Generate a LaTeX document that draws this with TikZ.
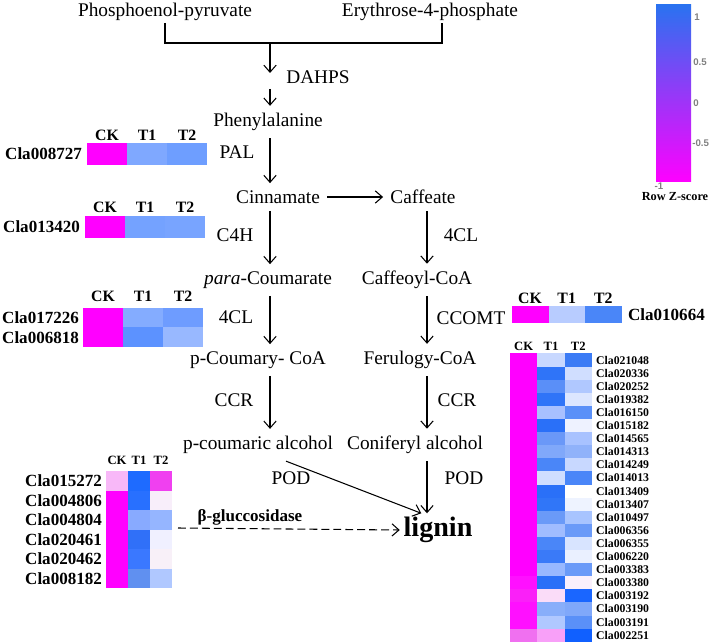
\documentclass[tikz,border=0pt]{standalone}
\usepackage{fontspec}
\setmainfont{Liberation Serif}
\setsansfont{Liberation Sans}
\usetikzlibrary{arrows.meta}

\newcommand{\hmcell}[5]{%
  \definecolor{hmc}{HTML}{#5}%
  \fill[hmc] (#1,#2) rectangle ++(#3,#4);}

\tikzset{
  met/.style={font=\fontsize{11}{13}\selectfont, inner sep=4pt},
  enz/.style={font=\fontsize{11}{13}\selectfont, inner sep=1pt},
  flow/.style={-{Straight Barb[length=4pt,width=7pt]}, line width=0.6pt},
  gene/.style={font=\fontsize{9.7}{11}\selectfont\bfseries, inner sep=1pt, anchor=east},
  hdr/.style={font=\fontsize{9}{11}\selectfont\bfseries, inner sep=1pt},
  smallgene/.style={font=\fontsize{6.7}{8}\selectfont\bfseries, inner sep=1pt, anchor=west},
  smallhdr/.style={font=\fontsize{7.2}{9}\selectfont\bfseries, inner sep=1pt},
  zval/.style={font=\fontsize{5.5}{7}\selectfont\sffamily\bfseries, text=gray, inner sep=0pt, anchor=west}
}

\begin{document}
\begin{tikzpicture}[x=0.02cm, y=-0.02cm]
\useasboundingbox (0,0) rectangle (709,644);

% precursors and DAHPS
\node[met, inner sep=1pt] (pep) at (165,12) {Phosphoenol-pyruvate};
\node[met, inner sep=1pt] (e4p) at (430,12) {Erythrose-4-phosphate};
\coordinate (join) at (270,43);
\coordinate (brR) at (442,43);
\coordinate (dA) at (270,73);
\coordinate (dB) at (270,89);
\coordinate (c1) at (270,0);
\coordinate (c2) at (427,0);
\draw[line width=0.6pt] (pep.south) |- (brR) -- (brR |- e4p.south);
\draw[flow] (join) -- (dA);
\node[enz] (dahps) at (318,77) {DAHPS};

% pathway
\node[met] (phe) at (268,122) {Phenylalanine};
\node[met] (cin) at (278,197) {Cinnamate};
\node[met] (caf) at (423,197) {Caffeate};
\node[met] (pcou) at (268,280) {\textit{para}-Coumarate};
\node[met] (cafcoa) at (417,280) {Caffeoyl-CoA};
\node[met] (pcoa) at (258,360) {p-Coumary- CoA};
\node[met] (fercoa) at (420,360) {Ferulogy-CoA};
\node[met] (pcal) at (258,445) {p-coumaric alcohol};
\node[met] (conal) at (415,445) {Coniferyl alcohol};
\node[font=\fontsize{16}{19}\selectfont\bfseries, inner sep=2pt] (lignin) at (438,530) {lignin};

\draw[flow] (dB) -- (phe.north -| dB);
\draw[flow] (phe.south -| c1) -- (cin.north -| c1);
\draw[flow] (cin) -- (caf);
\draw[flow] (cin.south -| c1) -- (pcou.north -| c1);
\draw[flow] (caf.south -| c2) -- (cafcoa.north -| c2);
\draw[flow] (pcou.south -| c1) -- (pcoa.north -| c1);
\draw[flow] (cafcoa.south -| c2) -- (fercoa.north -| c2);
\draw[flow] (pcoa.south -| c1) -- (pcal.north -| c1);
\draw[flow] (fercoa.south -| c2) -- (conal.north -| c2);
\draw[flow] (pcal.-30) -- (lignin.135);
\draw[flow] (conal.south -| c2) -- (lignin.north -| c2);

% enzymes
\node[enz] (pal) at (237,152) {PAL};
\node[enz] (c4h) at (235,235) {C4H};
\node[enz] (fclA) at (236,317) {4CL};
\node[enz] (ccrA) at (234,400) {CCR};
\node[enz] (podA) at (291,478) {POD};
\node[enz] (fclB) at (461,235) {4CL};
\node[enz] (ccomt) at (471,318) {CCOMT};
\node[enz] (ccrB) at (457,400) {CCR};
\node[enz] (podB) at (464,478) {POD};

\coordinate (bgStart) at (178,528);
\node[font=\fontsize{9.7}{11}\selectfont\bfseries, inner sep=1pt] (bgluc) at (250,517) {β-gluccosidase};
\draw[flow, dashed, dash pattern=on 4.5pt off 2.3pt] (bgStart) -- (lignin.west);

% heatmap PAL
\foreach \c [count=\k from 0] in {FF00FF,7FA8FF,6E9EFF}
  {\hmcell{87+40*\k}{143}{40}{22}{\c}}
\foreach \h [count=\k from 0] in {CK,T1,T2}
  \node[hdr] (pal\h) at (107+40*\k,135) {\h};
\node[gene] (Cla008727) at (84,154) {Cla008727};

% heatmap C4H
\foreach \c [count=\k from 0] in {FF00FF,74A2FF,78A4FF}
  {\hmcell{85+40*\k}{216}{40}{22}{\c}}
\foreach \h [count=\k from 0] in {CK,T1,T2}
  \node[hdr] (cfh\h) at (105+40*\k,207) {\h};
\node[gene] (Cla013420) at (82,227) {Cla013420};

% heatmap 4CL
\foreach \nm/\a/\b/\c [count=\r from 0] in
  {Cla017226/FF00FF/84ACFF/6E9CFF, Cla006818/FF00FF/5C92FF/98B8FF}{
  \hmcell{83}{308+19.5*\r}{40}{19.5}{\a}
  \hmcell{123}{308+19.5*\r}{40}{19.5}{\b}
  \hmcell{163}{308+19.5*\r}{40}{19.5}{\c}
  \node[gene] (\nm) at (81,317.75+19.5*\r) {\nm};
}
\foreach \h [count=\k from 0] in {CK,T1,T2}
  \node[hdr] (fcl\h) at (103+40*\k,296) {\h};

% heatmap CCOMT
\foreach \c [count=\k from 0] in {FF00FF,B8CCFF,4A86F8}
  {\hmcell{512+36.67*\k}{306}{36.67}{17}{\c}}
\foreach \h [count=\k from 0] in {CK,T1,T2}
  \node[hdr] (cco\h) at (530+36.67*\k,298) {\h};
\node[gene, anchor=west] (Cla010664) at (626,314.5) {Cla010664};

% heatmap beta-gluccosidase
\foreach \nm/\a/\b/\c [count=\r from 0] in
  {Cla015272/F8B8F8/1E6BFF/F040F0, Cla004806/FF00FF/2870FF/F8EEFA,
   Cla004804/FF00FF/88AAFF/95B5FF, Cla020461/FF00FF/3070F8/F0F0FF,
   Cla020462/FF00FF/3A78FF/F8F0F8, Cla008182/FF00FF/6090F0/B0C8FF}{
  \hmcell{106}{471+19.5*\r}{22}{19.5}{\a}
  \hmcell{128}{471+19.5*\r}{22}{19.5}{\b}
  \hmcell{150}{471+19.5*\r}{22}{19.5}{\c}
  \node[gene] (\nm) at (104,480.75+19.5*\r) {\nm};
}
\foreach \h [count=\k from 0] in {CK,T1,T2}
  \node[smallhdr] (bg\h) at (117+22*\k,460) {\h};

% heatmap POD
\foreach \nm/\a/\b/\c [count=\r from 0] in
  {Cla021048/FF00FF/C8D8FF/3B7BF5, Cla020336/FF00FF/2F74F8/D0DEFF,
   Cla020252/FF00FF/5A8FF8/B0C8FF, Cla019382/FF00FF/2F74F8/DCE6FF,
   Cla016150/FF00FF/A8C0FF/5A90F8, Cla015182/FF00FF/2A70F8/EEF2FF,
   Cla014565/FF00FF/6A98F8/A8C2FF, Cla014313/FF00FF/80A8FA/90B2FA,
   Cla014249/FF00FF/4A86F8/C8D8FF, Cla014013/FF00FF/D0DEFF/4A86F8,
   Cla013409/FF00FF/2A70F8/FFFFFF, Cla013407/FF00FF/3076F8/EEF3FF,
   Cla010497/FF00FF/6A9AF8/A8C4FF, Cla006356/FF00FF/A0BCFF/6A9AF8,
   Cla006355/FF00FF/4A86F8/D8E4FF, Cla006220/FF00FF/3A7AF8/EAF0FF,
   Cla003383/FF00FF/98B8FF/6A9AF8, Cla003380/FF10FF/2A70F8/FAF0FC,
   Cla003192/FA20F8/FADCF8/1A66FF, Cla003190/FF10FF/88AEFA/80A8FA,
   Cla003191/FF10FF/B0C8FF/5A90F8, Cla002251/F070F0/F8A0F8/1060FF}{
  \hmcell{510}{353.5+13.1*\r}{27.3}{13.1}{\a}
  \hmcell{537.3}{353.5+13.1*\r}{27.3}{13.1}{\b}
  \hmcell{564.6}{353.5+13.1*\r}{27.3}{13.1}{\c}
  \node[smallgene] (\nm) at (594,360.05+13.1*\r) {\nm};
}
\foreach \h [count=\k from 0] in {CK,T1,T2}
  \node[smallhdr] (pod\h) at (523.65+27.3*\k,346) {\h};

% colour key
\definecolor{keytop}{HTML}{2A72F0}
\shade[top color=keytop, middle color=white, bottom color=magenta] (656,5) rectangle (691,182);
\node[zval] (kOne) at (694,17) {1};
\node[zval] (kHalf) at (693,62) {0.5};
\node[zval] (kZero) at (693,103) {0};
\node[zval] (kmHalf) at (692,143) {-0.5};
\node[zval, anchor=center] (kmOne) at (659,186) {-1};
\node[font=\fontsize{7}{8}\selectfont\bfseries, inner sep=1pt] (zkey) at (675,197) {Row Z-score};

\end{tikzpicture}
\end{document}
